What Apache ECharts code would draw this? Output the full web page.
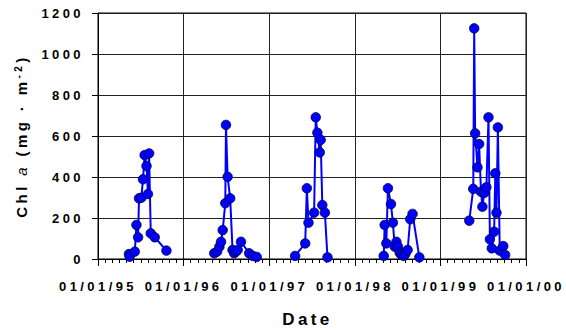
<!DOCTYPE html>
<html><head><meta charset="utf-8">
<script src="https://cdn.jsdelivr.net/npm/echarts@6/dist/echarts.min.js"></script>
<style>
html,body{margin:0;padding:0;background:#fff;}
#main{width:566px;height:330px;}
#main text{letter-spacing:3.4px;}
</style></head><body><div id="main"></div>
<script>
// ---- data ----
const dates1995 = ['1995-05-13','1995-05-16','1995-06-07','1995-06-14','1995-06-21','1995-06-25','1995-07-05','1995-07-12','1995-07-19','1995-07-27','1995-08-02','1995-08-07','1995-08-14','1995-08-31','1995-10-20'];
const chl1995   = [24, 11, 36, 166, 106, 296, 299, 389, 507, 454, 317, 515, 125, 106, 41];
const dates1996 = ['1996-05-11','1996-05-23','1996-06-02','1996-06-09','1996-06-16','1996-06-27','1996-06-30','1996-07-07','1996-07-18','1996-07-28','1996-08-04','1996-08-12','1996-08-19','1996-09-02','1996-10-07','1996-10-22','1996-11-08'];
const chl1996   = [28, 36, 60, 84, 141, 272, 654, 401, 296, 44, 28, 36, 44, 84, 28, 15, 10];
const dates1997 = ['1997-04-21','1997-06-03','1997-06-10','1997-06-17','1997-07-11','1997-07-18','1997-07-25','1997-08-04','1997-08-08','1997-08-15','1997-08-26','1997-09-06'];
const chl1997   = [15, 76, 345, 177, 226, 691, 616, 520, 581, 263, 226, 8];
const dates1998 = ['1998-05-04','1998-05-08','1998-05-15','1998-05-22','1998-06-04','1998-06-12','1998-06-20','1998-06-27','1998-07-04','1998-07-11','1998-07-18','1998-07-28','1998-08-04','1998-08-14','1998-08-25','1998-09-04','1998-10-03'];
const chl1998   = [15, 166, 76, 345, 268, 177, 60, 84, 60, 31, 20, 15, 24, 44, 194, 220, 8];
const dates1999 = ['1999-05-04','1999-05-21','1999-05-25','1999-05-29','1999-06-08','1999-06-15','1999-06-23','1999-06-29','1999-07-07','1999-07-16','1999-07-25','1999-07-31','1999-08-08','1999-08-18','1999-08-23','1999-08-28','1999-09-03','1999-09-11','1999-09-26','1999-10-04'];
const chl1999   = [187, 342, 1125, 613, 447, 561, 328, 255, 323, 350, 691, 96, 52, 133, 418, 226, 642, 41, 63, 20];
const xMin = '1995-01-01';
const xMax = '2000-01-01';
const yTicks = [0, 200, 400, 600, 800, 1000, 1200];

const SPACING = 3.4;
const FONT = 'Liberation Sans, Arial, sans-serif';

if (echarts.setPlatformAPI) {
  const mc = document.createElement('canvas').getContext('2d');
  echarts.setPlatformAPI({
    measureText: function (text, font) {
      mc.font = font || '12px sans-serif';
      try { mc.letterSpacing = SPACING + 'px'; } catch (e) {}
      return { width: mc.measureText(text).width };
    }
  });
}

function pad(n){ return (n < 10 ? '0' : '') + n; }
function fmtDate(v){
  const d = new Date(v + 12*3600*1000);
  return pad(d.getMonth()+1) + '/' + pad(d.getDate()) + '/' + String(d.getFullYear()).slice(2);
}

const years = [[dates1995, chl1995],[dates1996, chl1996],[dates1997, chl1997],[dates1998, chl1998],[dates1999, chl1999]];
const series = years.map(function (y) {
  return {
    type: 'line',
    data: y[0].map(function (d, i) { return [d, y[1][i]]; }),
    symbol: 'circle',
    symbolSize: 9.5,
    showSymbol: true,
    lineStyle: { color: '#0000ff', width: 2 },
    itemStyle: { color: '#0000ff', borderColor: '#000033', borderWidth: 0.8 },
    emphasis: { disabled: true },
    z: 3
  };
});

const chart = echarts.init(document.getElementById('main'), null, { renderer: 'svg' });
chart.setOption({
  animation: false,
  backgroundColor: '#fff',
  grid: { left: 98, right: 40, top: 13, bottom: 71, show: true, borderColor: '#000', borderWidth: 1, backgroundColor: 'transparent', containLabel: false, outerBoundsMode: 'none' },
  xAxis: {
    type: 'time',
    min: xMin, max: xMax,
    minInterval: 300 * 864e5,
    splitNumber: 5,
    axisLine: { lineStyle: { color: '#000', width: 1 } },
    axisTick: { show: true, length: 7, lineStyle: { color: '#000', width: 1 } },
    minorTick: { show: true, splitNumber: 12, length: 4, lineStyle: { color: '#000', width: 1 } },
    splitLine: { show: true, lineStyle: { color: '#222', width: 1 } },
    axisLabel: { formatter: function (v) { return fmtDate(v); }, fontFamily: FONT, fontSize: 13, fontWeight: 'bold', color: '#000', margin: 19, showMinLabel: true, showMaxLabel: true, hideOverlap: false },
    name: 'Date', nameLocation: 'middle', nameGap: 50,
    nameTextStyle: { fontFamily: FONT, fontSize: 17, fontWeight: 'bold', color: '#000', padding: [0, 9, 0, 0] }
  },
  yAxis: {
    type: 'value',
    min: yTicks[0], max: yTicks[yTicks.length - 1], interval: yTicks[1] - yTicks[0],
    axisLine: { show: true, lineStyle: { color: '#000', width: 1 } },
    axisTick: { show: true, length: 6, lineStyle: { color: '#000', width: 1 } },
    splitLine: { show: true, lineStyle: { color: '#222', width: 1 } },
    axisLabel: { formatter: function (v) { return String(v); }, fontFamily: FONT, fontSize: 13, fontWeight: 'bold', color: '#000', margin: 14 },
    name: '{b|Chl }{i|a}{b| (mg · m}{s|-2}{b|)}',
    nameLocation: 'middle', nameGap: 52,
    nameTextStyle: {
      fontFamily: FONT, fontSize: 15, fontWeight: 'bold', color: '#000',
      rich: {
        b: { fontFamily: FONT, fontSize: 15, fontWeight: 'bold', color: '#000', lineHeight: 20 },
        i: { fontFamily: FONT, fontSize: 15, fontStyle: 'italic', fontWeight: 'normal', color: '#000', lineHeight: 20 },
        s: { fontFamily: FONT, fontSize: 10, fontWeight: 'bold', color: '#000', lineHeight: 20, verticalAlign: 'top' }
      }
    }
  },
  series: series
});
</script></body></html>
